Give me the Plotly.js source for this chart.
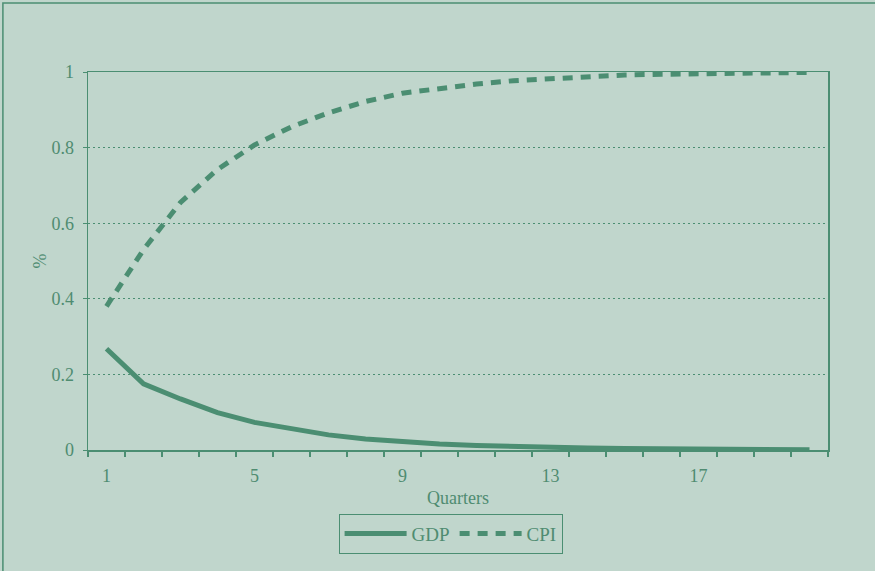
<!DOCTYPE html>
<html>
<head>
<meta charset="utf-8">
<script src="https://cdn.plot.ly/plotly-3.0.1.min.js"></script>
<style>
html,body{margin:0;padding:0;background:#C0D6CC;}
#chart{width:875px;height:571px;}
</style>
</head>
<body>
<div id="chart"></div>
<script>
const quarters = [1,2,3,4,5,6,7,8,9,10,11,12,13,14,15,16,17,18,19,20];
const gdp = [0.268,0.175,0.135,0.099,0.073,0.055,0.040,0.029,0.021,0.016,0.012,0.009,0.007,0.005,0.004,0.003,0.002,0.0015,0.001,0.0008];
const cpi = [0.38,0.53,0.655,0.742,0.807,0.855,0.892,0.922,0.944,0.957,0.968,0.977,0.983,0.988,0.992,0.994,0.996,0.997,0.998,0.999];
const xTickVals = [1,5,9,13,17];
const xTickText = ['1','5','9','13','17'];

const green = '#4B8E72';
const txt = '#4F8C71';
const bg = '#C0D6CC';

const traces = [
  {x: quarters, y: gdp, name: 'GDP', type: 'scatter', mode: 'lines',
   line: {color: green, width: 5}},
  {x: quarters, y: cpi, name: 'CPI', type: 'scatter', mode: 'lines',
   line: {color: green, width: 5, dash: '10px,8px'}}
];

const layout = {
  width: 875, height: 571,
  paper_bgcolor: bg, plot_bgcolor: bg,
  margin: {l: 88, r: 47, t: 72, b: 121},
  font: {family: 'Liberation Serif, Times New Roman, serif', size: 18, color: txt},
  showlegend: true,
  legend: {orientation: 'h', x: 0.49, xanchor: 'center', y: -0.221, yanchor: 'middle',
           bordercolor: green, borderwidth: 1, bgcolor: bg, font: {size: 19, color: txt},
           itemwidth: 62, tracegroupgap: 0},
  xaxis: {
    range: [0.5, 20.5], tickvals: xTickVals, ticktext: xTickText,
    ticks: '', ticklabelstandoff: 9, showgrid: false, zeroline: false,
    showline: true, linecolor: green, linewidth: 1.5, mirror: true,
    minor: {tick0: 0.5, dtick: 1, ticks: 'outside', ticklen: 5, tickcolor: green, tickwidth: 1.2, showgrid: false},
    title: {text: 'Quarters', font: {size: 18, color: txt}, standoff: 6}
  },
  yaxis: {
    range: [0, 1], dtick: 0.2, ticks: 'outside', ticklen: 4, tickcolor: green,
    ticklabelstandoff: 5,
    showgrid: true, gridcolor: green, griddash: '2px,3px', gridwidth: 1,
    zeroline: false, showline: true, linecolor: green, linewidth: 1.5, mirror: true,
    title: {text: '%', font: {size: 18, color: txt}, standoff: 0}
  },
  shapes: [
    {type: 'rect', xref: 'paper', yref: 'paper', x0: -0.115, x1: 1.2, y0: -0.5, y1: 1.1825,
     line: {color: green, width: 1.5}, fillcolor: 'rgba(0,0,0,0)', layer: 'below'}
  ]
};

Plotly.newPlot('chart', traces, layout, {staticPlot: true, displayModeBar: false});
</script>
</body>
</html>
